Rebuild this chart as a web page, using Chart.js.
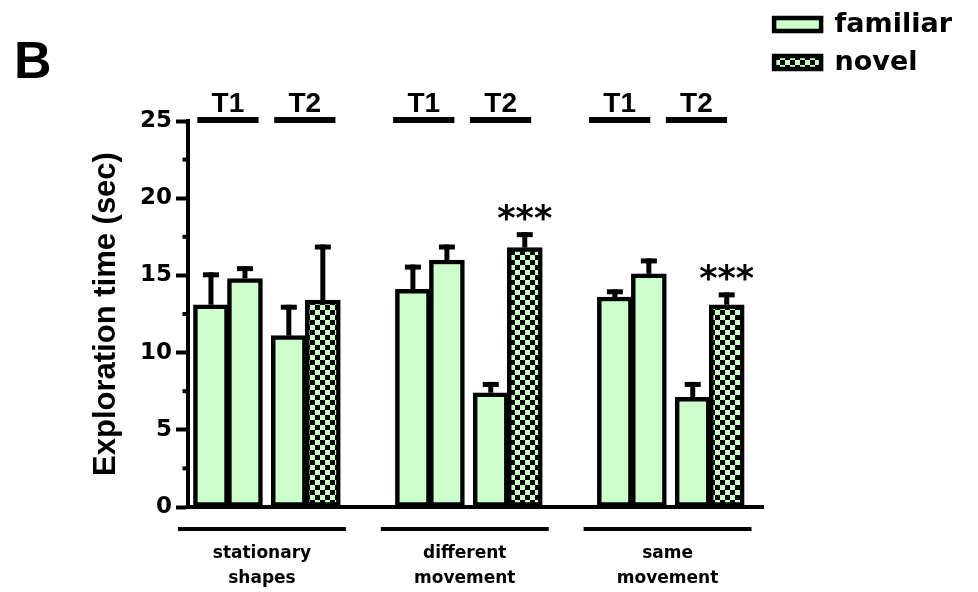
<!DOCTYPE html>
<html>
<head>
<meta charset="utf-8">
<script src="https://cdn.jsdelivr.net/npm/chart.js@4.4.1/dist/chart.umd.min.js"></script>
<style>
  html, body { margin: 0; padding: 0; background: #fff; }
  canvas { display: block; }
</style>
</head>
<body>
<canvas id="chart" width="978" height="592"></canvas>
<script>
// groups on the x axis and the two trials of each group
var groups = [['stationary', 'shapes'], ['different', 'movement'], ['same', 'movement']]
var trials = ['T1', 'T2']
var yTicks = [0, 5, 10, 15, 20, 25]

// exploration time (sec): mean and SEM, one value per group
var t1ObjectA = [13.1, 14.1, 13.6]
var t1ObjectASem = [2.1, 1.6, 0.5]
var t1ObjectB = [14.8, 16.0, 15.1]
var t1ObjectBSem = [0.8, 1.0, 1.0]
var t2Familiar = [11.1, 7.4, 7.1]
var t2FamiliarSem = [2.0, 0.7, 1.0]
var t2Novel = [13.4, 16.8, 13.1]
var t2NovelSem = [3.6, 1.0, 0.8]
var novelSig = ['', '***', '***']

/* layout on the x axis, in bar widths */
var GROUP_STEP = 5.94
var TRIAL_STEP = 2.29
var LABEL_GROUP_STEP = 5.76
var LABEL_TRIAL_STEP = 2.26
var LABEL_OFF = 0.5
var GROUP_LINE_OFF = 1.5
var GROUP_LINE_STEP = 5.965

function barX(g, t, o){
    return g * GROUP_STEP + t * TRIAL_STEP + o
}
function groupCenter(g){
    return GROUP_LINE_OFF + g * GROUP_LINE_STEP
}

function checker(){
    var c = document.createElement('canvas')
    c.width = 10
    c.height = 10
    var cx = c.getContext('2d')
    cx.fillStyle = '#ccffcc'
    cx.fillRect(0, 0, 10, 10)
    cx.fillStyle = '#000'
    cx.fillRect(0, 0, 5, 5)
    cx.fillRect(5, 5, 5, 5)
    return cx.createPattern(c, 'repeat')
}

var familiarData = [], familiarErr = []
var novelData = [], novelErr = []
groups.forEach(function(g, i){
    familiarData.push({x: barX(i, 0, 0), y: t1ObjectA[i]})
    familiarErr.push(t1ObjectASem[i])
    familiarData.push({x: barX(i, 0, 1), y: t1ObjectB[i]})
    familiarErr.push(t1ObjectBSem[i])
    familiarData.push({x: barX(i, 1, 0), y: t2Familiar[i]})
    familiarErr.push(t2FamiliarSem[i])
    novelData.push({x: barX(i, 1, 1), y: t2Novel[i]})
    novelErr.push(t2NovelSem[i])
})

// error bars, stars, minor ticks, trial and group markers
const extras = {
    id: 'extras',
    afterDatasetsDraw: function(chart){
        const ctx = chart.ctx
        const xs = chart.scales.x
        const ys = chart.scales.y
        const ca = chart.chartArea
        ctx.save()
        ctx.fillStyle = '#000'

        for (let v = 2.5; v < 25; v += 5) {
            const py = ys.getPixelForValue(v)
            ctx.fillRect(ca.left - 5, py - 2, 5, 4)
        }

        chart.data.datasets.forEach(function(ds, di){
            const meta = chart.getDatasetMeta(di)
            meta.data.forEach(function(bar, i){
                const top = ys.getPixelForValue(ds.data[i].y + ds.errors[i])
                ctx.fillRect(bar.x - 2.5, top, 5, bar.y - top)
                ctx.fillRect(bar.x - 8, top, 16, 5)
                if (ds.sig && ds.sig[i]) {
                    ctx.font = 'bold 35px "DejaVu Sans"'
                    ctx.textAlign = 'center'
                    ctx.textBaseline = 'alphabetic'
                    ctx.fillText(ds.sig[i], bar.x, top - 2)
                }
            })
        })

        ctx.font = 'bold 28px "Liberation Sans"'
        ctx.textAlign = 'center'
        ctx.textBaseline = 'alphabetic'
        groups.forEach(function(g, gi){
            trials.forEach(function(t, ti){
                const c = LABEL_OFF + gi * LABEL_GROUP_STEP + ti * LABEL_TRIAL_STEP
                const x0 = xs.getPixelForValue(c - 0.9)
                const x1 = xs.getPixelForValue(c + 0.9)
                ctx.fillRect(x0, ca.top - 4, x1 - x0, 6)
                ctx.fillText(t, (x0 + x1) / 2, ca.top - 9)
            })
            const gc = groupCenter(gi)
            const a = xs.getPixelForValue(gc - 2.47)
            const b = xs.getPixelForValue(gc + 2.47)
            ctx.fillRect(a, ca.bottom + 20, b - a, 4)
        })
        ctx.restore()
    }
}

const ctx = document.getElementById('chart').getContext('2d')
const config = {
    type: 'bar',
    data: {
        datasets: [{
            label: 'familiar',
            data: familiarData,
            errors: familiarErr,
            backgroundColor: '#ccffcc',
            borderColor: '#000',
            borderWidth: 4.5,
            borderSkipped: false,
            barThickness: 35,
            grouped: false
        }, {
            label: 'novel',
            data: novelData,
            errors: novelErr,
            sig: novelSig,
            backgroundColor: checker(),
            borderColor: '#000',
            borderWidth: 4.5,
            borderSkipped: false,
            barThickness: 35,
            grouped: false
        }]
    },
    options: {
        responsive: false,
        animation: false,
        devicePixelRatio: 1,
        layout: {
            padding: {left: 14, top: 0, right: 16, bottom: 0}
        },
        plugins: {
            title: {
                display: true,
                text: 'B',
                align: 'start',
                color: '#000',
                font: {family: 'Liberation Sans', size: 52, weight: 'bold'},
                padding: {top: 32.8, bottom: 25.8}
            },
            legend: {
                position: 'right',
                align: 'start',
                labels: {
                    boxWidth: 47,
                    boxHeight: 13,
                    padding: 11,
                    color: '#000',
                    font: {family: 'DejaVu Sans', size: 27, weight: 'bold'}
                }
            },
            tooltip: {enabled: false}
        },
        scales: {
            x: {
                type: 'linear',
                offset: false,
                min: -0.69,
                max: 16.24,
                afterBuildTicks: function(s){
                    s.ticks = groups.map(function(g, i){ return {value: groupCenter(i)} })
                },
                afterFit: function(s){ s.height = 85 },
                ticks: {
                    callback: function(v, i){ return groups[i] },
                    autoSkip: false,
                    maxRotation: 0,
                    minRotation: 0,
                    padding: 34.5,
                    color: '#000',
                    font: {family: 'DejaVu Sans', size: 17, weight: 'bold', lineHeight: '25px'}
                },
                grid: {display: false, drawTicks: false, offset: false},
                border: {width: 4, color: '#000'}
            },
            y: {
                min: 0,
                max: 25,
                afterFit: function(s){ s.width = 173.5 },
                ticks: {
                    stepSize: 2.5,
                    autoSkip: false,
                    callback: function(v){ return yTicks.indexOf(v) > -1 ? v : '' },
                    padding: 4,
                    color: '#000',
                    font: {family: 'DejaVu Sans', size: 23, weight: 'bold'}
                },
                grid: {
                    drawOnChartArea: false,
                    tickLength: 11.5,
                    tickWidth: 4,
                    tickColor: function(c){
                        return (c.tick && yTicks.indexOf(c.tick.value) > -1) ? '#000' : 'rgba(0,0,0,0)'
                    }
                },
                border: {width: 4, color: '#000'},
                title: {
                    display: true,
                    text: 'Exploration time (sec)',
                    color: '#000',
                    font: {family: 'Liberation Sans', size: 31, weight: 'bold'},
                    padding: {top: 73.7, bottom: 0}
                }
            }
        }
    },
    plugins: [extras]
}
const myChart = new Chart(ctx, config)
</script>
</body>
</html>
